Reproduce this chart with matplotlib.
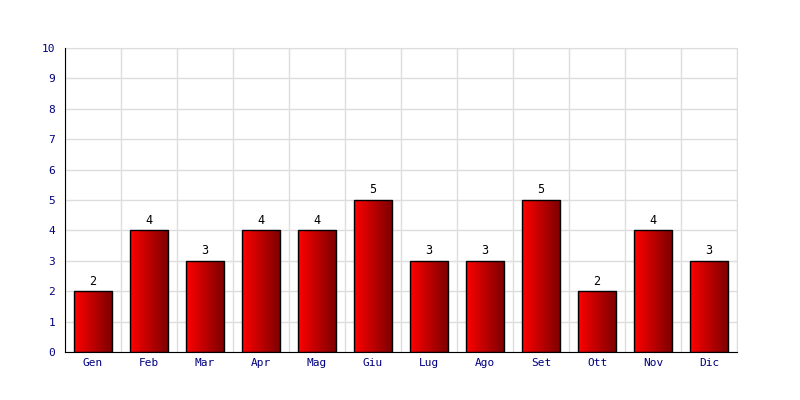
import matplotlib
import numpy as np

matplotlib.use("Agg")
import matplotlib.pyplot as plt
from matplotlib.colors import LinearSegmentedColormap

months = ["Gen", "Feb", "Mar", "Apr", "Mag", "Giu", "Lug", "Ago", "Set", "Ott", "Nov", "Dic"]
counts = [2, 4, 3, 4, 4, 5, 3, 3, 5, 2, 4, 3]
y_ticks = list(range(0, 11))

NAVY = "#000080"
GRID = "#dddddd"
BAR_W = 0.68
red_grad = LinearSegmentedColormap.from_list("redgrad", ["#ff0000", "#7a0000"])

plt.rcParams["font.family"] = ["DejaVu Sans Mono"]

fig = plt.figure(figsize=(8, 4), dpi=100)
ax = fig.add_axes([65 / 800, 48 / 400, 672 / 800, 304 / 400])

x = np.arange(len(months))
bars = ax.bar(x, counts, width=BAR_W, facecolor="none", edgecolor="black", linewidth=1.0, zorder=3)

# horizontal red gradient, clipped to each bar
gradient = np.linspace(0, 1, 256).reshape(1, -1)
for bar in bars:
    x0, y0 = bar.get_x(), bar.get_y()
    w, h = bar.get_width(), bar.get_height()
    im = ax.imshow(gradient, cmap=red_grad, aspect="auto", extent=[x0, x0 + w, y0, y0 + h], zorder=2)
    im.set_clip_path(bar)

for xi, v in zip(x, counts):
    ax.text(xi, v + 0.12, str(v), ha="center", va="bottom", fontsize=8.5, color="black")

ax.set_xlim(-0.5, len(months) - 0.5)
ax.set_ylim(0, 10)
ax.set_xticks(x)
ax.set_xticklabels(months)
ax.set_yticks(y_ticks)
ax.set_xticks(np.arange(-0.5, len(months) + 0.5, 1.0), minor=True)
ax.tick_params(axis="both", which="both", length=0, colors=NAVY, labelsize=8)
ax.tick_params(axis="x", pad=4)
ax.tick_params(axis="y", pad=7)

ax.grid(True, axis="y", which="major", color=GRID, linewidth=1.0, zorder=0)
ax.grid(True, axis="x", which="minor", color=GRID, linewidth=1.0, zorder=0)
ax.set_axisbelow(True)

for side in ["top", "right"]:
    ax.spines[side].set_color(GRID)
for side in ["left", "bottom"]:
    ax.spines[side].set_color("black")
    ax.spines[side].set_zorder(4)

fig.savefig("out.png", dpi=100)
